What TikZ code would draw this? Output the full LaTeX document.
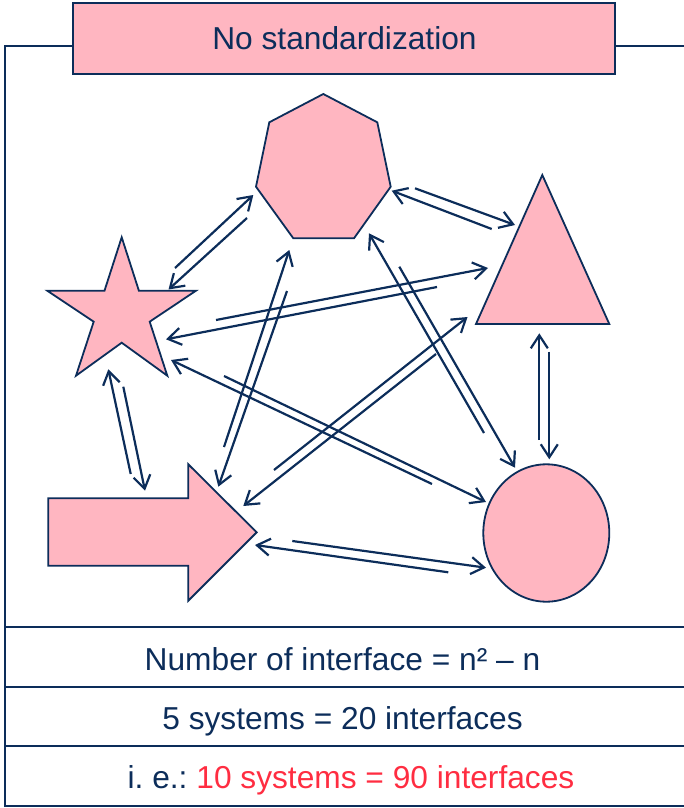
\documentclass[tikz,border=0pt]{standalone}
\usepackage{fontspec}
\setmainfont{Liberation Sans}
\usetikzlibrary{arrows.meta}
\definecolor{navy}{RGB}{12,45,90}
\definecolor{shapepink}{RGB}{255,182,193}
\definecolor{alertred}{RGB}{255,45,65}
\frenchspacing

\begin{document}
\begin{tikzpicture}[x=1pt,y=-1pt,
  frame/.style={draw=navy,line width=1.8pt},
  system/.style={draw=navy,fill=shapepink,line width=1.8pt,line join=miter},
  link/.style={draw=navy,line width=2.2pt,-{Straight Barb[length=13pt,width=17pt]}},
  label/.style={font=\fontsize{31.7}{38}\selectfont,text=navy,anchor=base,inner sep=0pt}
]
\useasboundingbox (0,0) rectangle (684,808);

% outer frame and table rows
\draw[frame] (684,46) -- (5,46) -- (5,806) -- (684,806);
\foreach \y in {627,687,746} \draw[frame] (5,\y) -- (684,\y);

% title box
\node[system,minimum width=542pt,minimum height=71pt,inner sep=0pt] (title) at (344,38.5) {};
\node[label] (titletext) at (344.5,50) {No standardization};

% the five systems
\draw[system] (323.3,94) -- (377.3,122.3) -- (390.7,186.7) -- (354,238.3)
  -- (293.3,238.3) -- (256,186.7) -- (269.3,122.3) -- cycle;
\draw[system] (121.7,237.3) -- (138.9,290.7) -- (196,290.7) -- (149.7,321.7)
  -- (167.3,375.7) -- (121.7,342.7) -- (76,375.7) -- (93.7,321.7)
  -- (47.3,290.7) -- (104.5,290.7) -- cycle;
\draw[system] (542.3,175) -- (609.3,324) -- (476,324) -- cycle;
\draw[system] (48.3,498.3) -- (188.3,498.3) -- (188.3,464.3) -- (256.7,532.3)
  -- (188.3,600.7) -- (188.3,565.7) -- (48.3,565.7) -- cycle;
\draw[system] (546.3,533) ellipse [x radius=63, y radius=68.7];

% interface end points
\coordinate (sh-a1) at (175,268);     \coordinate (sh-a2) at (253.3,195);
\coordinate (sh-b1) at (247,218);     \coordinate (sh-b2) at (168.5,289.5);
\coordinate (ht-a1) at (491.7,229);   \coordinate (ht-a2) at (391.7,190.7);
\coordinate (ht-b1) at (415,188.3);   \coordinate (ht-b2) at (515,225);
\coordinate (tc-a1) at (539.3,440);   \coordinate (tc-a2) at (539.3,333.3);
\coordinate (tc-b1) at (549.3,351.7); \coordinate (tc-b2) at (549.3,459.3);
\coordinate (ac-a1) at (448.3,572.3); \coordinate (ac-a2) at (255,545);
\coordinate (ac-b1) at (292.3,541);   \coordinate (ac-b2) at (486,567.7);
\coordinate (sa-a1) at (130.7,474);   \coordinate (sa-a2) at (108.3,369.3);
\coordinate (sa-b1) at (123.3,386.7); \coordinate (sa-b2) at (145,490.7);
\coordinate (st-a1) at (216,320);     \coordinate (st-a2) at (488,268);
\coordinate (st-b1) at (437,287);     \coordinate (st-b2) at (166,339.3);
\coordinate (sc-a1) at (432,484);     \coordinate (sc-a2) at (171,360);
\coordinate (sc-b1) at (224,376);     \coordinate (sc-b2) at (486,502);
\coordinate (ha-a1) at (224,447);     \coordinate (ha-a2) at (289.3,250);
\coordinate (ha-b1) at (287,291);     \coordinate (ha-b2) at (218.3,486.7);
\coordinate (hc-a1) at (484,433);     \coordinate (hc-a2) at (369,233.3);
\coordinate (hc-b1) at (399.3,266.7); \coordinate (hc-b2) at (515,467.7);
\coordinate (ta-a1) at (274,470);     \coordinate (ta-a2) at (467.5,317);
\coordinate (ta-b1) at (436,354);     \coordinate (ta-b2) at (243.3,506);

% every pair of systems is linked by two one-way interfaces
\foreach \p in {sh,ht,tc,ac,sa,st,sc,ha,hc,ta}{
  \draw[link] (\p-a1) -- (\p-a2);
  \draw[link] (\p-b1) -- (\p-b2);
}

% summary rows
\node[label] (formula) at (342.5,670) {Number of interface = n² – n};
\node[label] (five) at (342.5,729.5) {5 systems = 20 interfaces};
\node[label] (ten) at (351,788) {i. e.: \textcolor{alertred}{10 systems = 90 interfaces}};
\end{tikzpicture}
\end{document}
